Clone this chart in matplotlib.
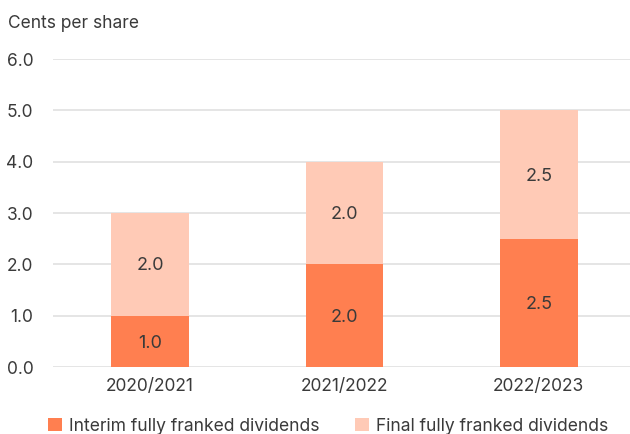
import matplotlib.pyplot as plt
import numpy as np

plt.rcParams['font.family'] = ['Inter', 'DejaVu Sans']

years = ["2020/2021", "2021/2022", "2022/2023"]
interim = [1.0, 2.0, 2.5]
final = [2.0, 2.0, 2.5]
yticks = [0.0, 1.0, 2.0, 3.0, 4.0, 5.0, 6.0]

c_interim = '#FF7F50'
c_final = '#FFCAB6'
txt = '#3a3a3a'

fig = plt.figure(figsize=(6.3, 4.34), dpi=100)
ax = fig.add_axes([0.084, 0.154, 0.916, 0.71])

x = np.arange(len(years))
b1 = ax.bar(x, interim, width=0.4, color=c_interim, label='Interim fully franked dividends', zorder=3)
b2 = ax.bar(x, final, width=0.4, bottom=interim, color=c_final, label='Final fully franked dividends', zorder=3)

for i in range(len(years)):
    ax.text(x[i], interim[i] / 2 - 0.03, f"{interim[i]:.1f}", ha='center', va='center', fontsize=13, color=txt, zorder=4)
    ax.text(x[i], interim[i] + final[i] / 2 - 0.03, f"{final[i]:.1f}", ha='center', va='center', fontsize=13, color=txt, zorder=4)

ax.set_xlim(-0.5, 2.47)
ax.set_ylim(0, 6.0)
ax.set_yticks(yticks)
ax.set_yticklabels([f"{v:.1f}" for v in yticks])
ax.set_xticks(x)
ax.set_xticklabels(years)
ax.tick_params(length=0, labelsize=12.5, colors=txt)
ax.tick_params(axis='y', pad=14)
ax.tick_params(axis='x', pad=8)
ax.grid(axis='y', color='#e0e0e0', linewidth=1.2, zorder=0)
for s in ax.spines.values():
    s.set_visible(False)

fig.text(0.013, 0.945, "Cents per share", fontsize=12.5, color=txt, ha='left', va='center')

fig.legend(handles=[b1, b2], loc='lower center', bbox_to_anchor=(0.521, -0.038), ncol=2,
           frameon=False, fontsize=12.6, handlelength=0.8, handleheight=0.8,
           handletextpad=0.4, columnspacing=2.0, labelcolor=txt)

fig.savefig("out.png", dpi=100)
